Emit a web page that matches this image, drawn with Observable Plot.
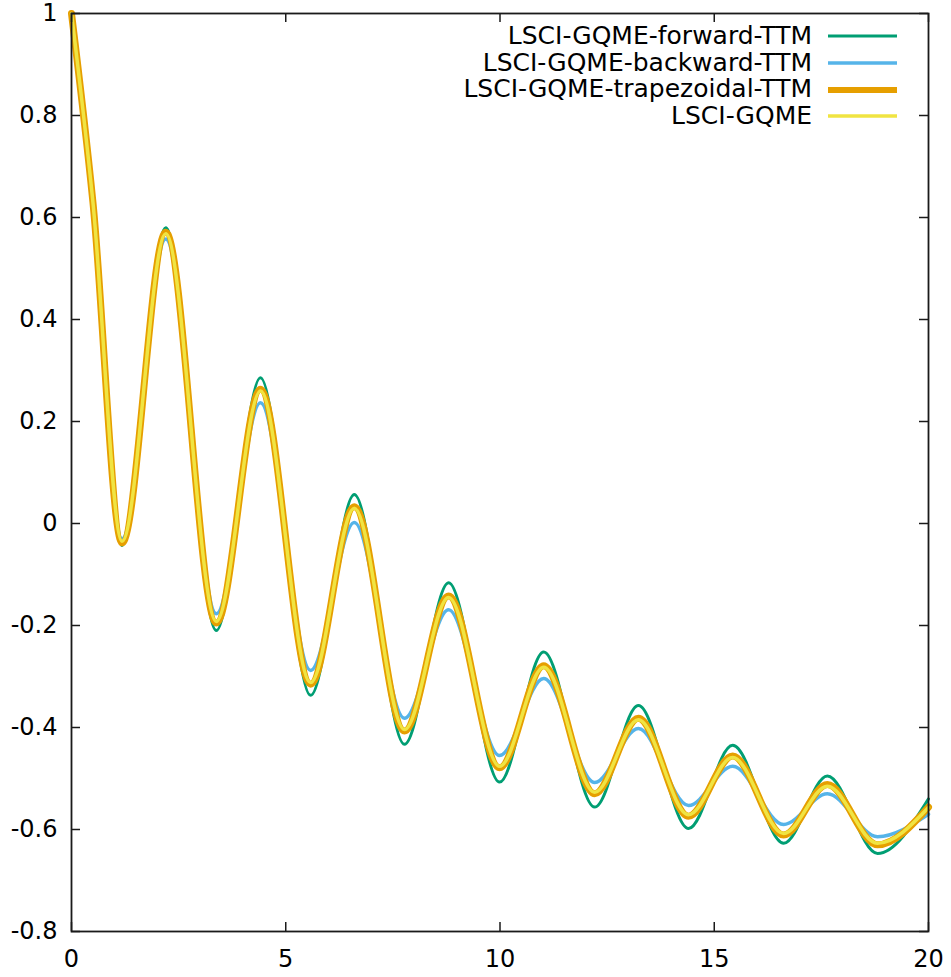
<!DOCTYPE html>
<html><head><meta charset="utf-8">
<script src="https://cdn.jsdelivr.net/npm/d3@7"></script>
<script src="https://cdn.jsdelivr.net/npm/@observablehq/plot@0.6"></script>
<style>
body{margin:0;background:#fff;}
#wrap{position:relative;width:951px;height:977px;}
#legend{position:absolute;top:23px;right:54px;font-family:"DejaVu Sans";font-size:25px;color:#000;}
.row{display:flex;align-items:center;justify-content:flex-end;height:26.7px;}
.row span{white-space:nowrap;line-height:26.7px;}
.row svg{margin-left:16px;display:block;}
</style></head><body><div id="wrap"><div id="legend"></div></div>
<script>
// time axis (extrema positions)
const t      = [0, 0.5, 1.18, 2.20, 3.38, 4.41, 5.58, 6.60, 7.77, 8.80, 9.99, 11.02, 12.21, 13.23, 14.40, 15.43, 16.62, 17.64, 18.81, 20];
const forwardTTM     = [1, 0.633, -0.043, 0.580, -0.210, 0.286, -0.337, 0.057, -0.433, -0.116, -0.507, -0.252, -0.556, -0.357, -0.598, -0.435, -0.627, -0.495, -0.647, -0.540];
const backwardTTM    = [1, 0.627, -0.030, 0.558, -0.177, 0.237, -0.288, 0.002, -0.382, -0.169, -0.455, -0.304, -0.508, -0.402, -0.553, -0.476, -0.590, -0.530, -0.614, -0.570];
const trapezoidalTTM = [1, 0.630, -0.038, 0.571, -0.195, 0.263, -0.315, 0.033, -0.407, -0.142, -0.479, -0.279, -0.530, -0.382, -0.574, -0.456, -0.611, -0.512, -0.630, -0.556];
const lsciGQME       = [1, 0.630, -0.035, 0.568, -0.192, 0.260, -0.312, 0.030, -0.404, -0.145, -0.476, -0.282, -0.527, -0.385, -0.571, -0.459, -0.608, -0.515, -0.627, -0.557];

const seriesNames  = ["LSCI-GQME-forward-TTM", "LSCI-GQME-backward-TTM", "LSCI-GQME-trapezoidal-TTM", "LSCI-GQME"];
const seriesValues = [forwardTTM, backwardTTM, trapezoidalTTM, lsciGQME];
const seriesColors = ["#009e73", "#56b4e9", "#e69f00", "#f0e442"];
const seriesWidths = [3, 3.5, 7, 3.5];

const xTicks = [0, 5, 10, 15, 20];
const xTickLabels = ["0", "5", "10", "15", "20"];
const yTicks = [-0.8, -0.6, -0.4, -0.2, 0, 0.2, 0.4, 0.6, 0.8, 1];
const yTickLabels = ["-0.8", "-0.6", "-0.4", "-0.2", "0", "0.2", "0.4", "0.6", "0.8", "1"];

const W = 951, H = 977, mL = 71, mR = 23, mT = 13, mB = 46;
const fw = W - mL - mR, fh = H - mT - mB, tl = 9;
const ink = "#1a1a1a";

const chart = Plot.plot({
  width: W, height: H,
  marginLeft: mL, marginRight: mR, marginTop: mT, marginBottom: mB,
  style: {fontFamily: "DejaVu Sans", fontSize: "24px", background: "#fff", color: "#000"},
  x: {domain: [0, 20], axis: null},
  y: {domain: [-0.8, 1], axis: null},
  marks: [
    ...seriesValues.map((vals, k) => Plot.line(t, {x: t, y: vals, stroke: seriesColors[k], strokeWidth: seriesWidths[k], curve: "monotone-x"})),
    Plot.tickX(xTicks, {x: d => d, insetTop: fh - tl, stroke: ink, strokeWidth: 1.5}),
    Plot.tickX(xTicks, {x: d => d, insetBottom: fh - tl, stroke: ink, strokeWidth: 1.5}),
    Plot.tickY(yTicks, {y: d => d, insetRight: fw - tl, stroke: ink, strokeWidth: 1.5}),
    Plot.tickY(yTicks, {y: d => d, insetLeft: fw - tl, stroke: ink, strokeWidth: 1.5}),
    Plot.frame({stroke: ink, strokeWidth: 1.8}),
    Plot.axisX(xTicks, {tickSize: 0, tickPadding: 18, label: null, tickFormat: d => xTickLabels[xTicks.indexOf(d)], fill: "#000"}),
    Plot.axisY(yTicks, {tickSize: 0, tickPadding: 14, label: null, tickFormat: d => yTickLabels[yTicks.indexOf(d)], fill: "#000"})
  ]
});
const wrap = document.getElementById("wrap");
wrap.insertBefore(chart, wrap.firstChild);

const legend = document.getElementById("legend");
seriesNames.forEach((name, k) => {
  const row = document.createElement("div");
  row.className = "row";
  const span = document.createElement("span");
  span.textContent = name;
  row.appendChild(span);
  const svg = d3.create("svg").attr("width", 69).attr("height", 10);
  svg.append("line").attr("x1", 0).attr("x2", 69).attr("y1", 5).attr("y2", 5)
    .attr("stroke", seriesColors[k]).attr("stroke-width", Math.min(seriesWidths[k], 6));
  row.appendChild(svg.node());
  legend.appendChild(row);
});
</script>
</body></html>
